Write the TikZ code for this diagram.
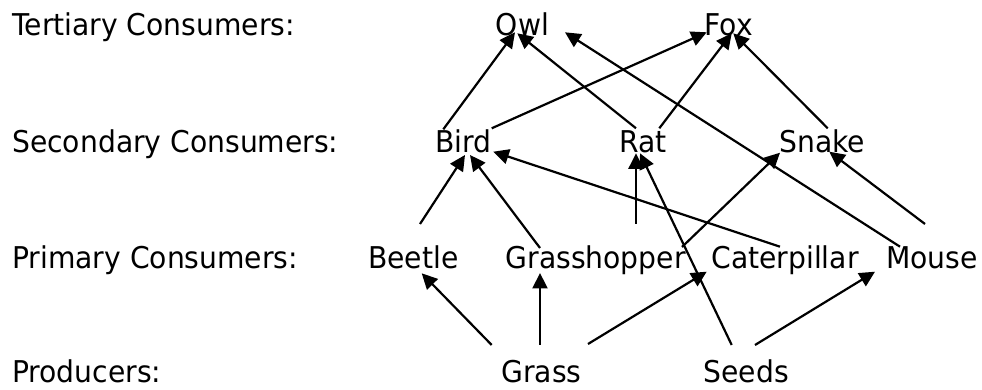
\documentclass[tikz,border=0pt]{standalone}
\usepackage{fontspec}
\setmainfont[FakeStretch=0.94]{DejaVu Sans}
\usetikzlibrary{arrows.meta}
\tikzset{
  lbl/.style={anchor=base west, inner sep=0pt},
  org/.style={anchor=base, inner sep=0pt},
  feed/.style={line width=2.2pt, -{Triangle[length=15.5pt,width=15pt]}},
}
\begin{document}
\begin{tikzpicture}[x=1pt,y=1pt,font=\fontsize{30}{36}\selectfont]
\useasboundingbox (0,0) rectangle (982,390);
% level labels
\node[lbl] (l4) at (12,354.3) {Tertiary Consumers:};
\node[lbl] (l3) at (12,237.3) {Secondary Consumers:};
\node[lbl] (l2) at (12,121) {Primary Consumers:};
\node[lbl] (l1) at (12,7) {Producers:};
% organisms
\node[org] (owl) at (522.5,354.3) {Owl};
\node[org] (fox) at (728.9,354.3) {Fox};
\node[org] (bird) at (463.3,237.3) {Bird};
\node[org] (rat) at (642.7,237.3) {Rat};
\node[org] (snake) at (822.2,237.3) {Snake};
\node[org] (beetle) at (413.3,121) {Beetle};
\node[org] (grasshopper) at (595.7,121) {Grasshopper};
\node[org] (caterpillar) at (785,121) {Caterpillar};
\node[org] (mouse) at (932,121) {Mouse};
\node[org] (grass) at (541.5,7) {Grass};
\node[org] (seeds) at (746.2,7) {Seeds};
% feeding relations
\draw[feed] ([shift={(-20,23.4)}]bird.base) -- ([shift={(-7.5,3.4)}]owl.base);
\draw[feed] ([shift={(-6.7,24.4)}]rat.base) -- ([shift={(-5.2,2.4)}]owl.base);
\draw[feed] ([shift={(-32,22.3)}]mouse.base) -- ([shift={(42.5,3.4)}]owl.base);
\draw[feed] ([shift={(28.4,24.4)}]bird.base) -- ([shift={(-22.2,3.4)}]fox.base);
\draw[feed] ([shift={(16.6,24.4)}]rat.base) -- ([shift={(2.8,2.4)}]fox.base);
\draw[feed] ([shift={(5.5,24.4)}]snake.base) -- ([shift={(4.4,2.4)}]fox.base);
\draw[feed] ([shift={(6.7,45)}]beetle.base) -- ([shift={(1.7,-2.3)}]bird.base);
\draw[feed] ([shift={(-55.7,21)}]grasshopper.base) -- ([shift={(6.7,-2.3)}]bird.base);
\draw[feed] ([shift={(-5,22.3)}]caterpillar.base) -- ([shift={(30,1)}]bird.base);
\draw[feed] ([shift={(40.3,45)}]grasshopper.base) -- ([shift={(-6.7,-0.6)}]rat.base);
\draw[feed] ([shift={(86.3,22)}]grasshopper.base) -- ([shift={(-42.2,0)}]snake.base);
\draw[feed] ([shift={(-7,45)}]mouse.base) -- ([shift={(7.1,1)}]snake.base);
\draw[feed] ([shift={(-49.8,38)}]grass.base) -- ([shift={(8.4,-4.3)}]beetle.base);
\draw[feed] ([shift={(-1.5,38)}]grass.base) -- ([shift={(-55.7,-4)}]grasshopper.base);
\draw[feed] ([shift={(46.5,39)}]grass.base) -- ([shift={(-78.3,-2.7)}]caterpillar.base);
\draw[feed] ([shift={(-14.5,38)}]seeds.base) -- ([shift={(-2.7,-0.6)}]rat.base);
\draw[feed] ([shift={(8.8,38)}]seeds.base) -- ([shift={(-57,-2.7)}]mouse.base);
\end{tikzpicture}
\end{document}
